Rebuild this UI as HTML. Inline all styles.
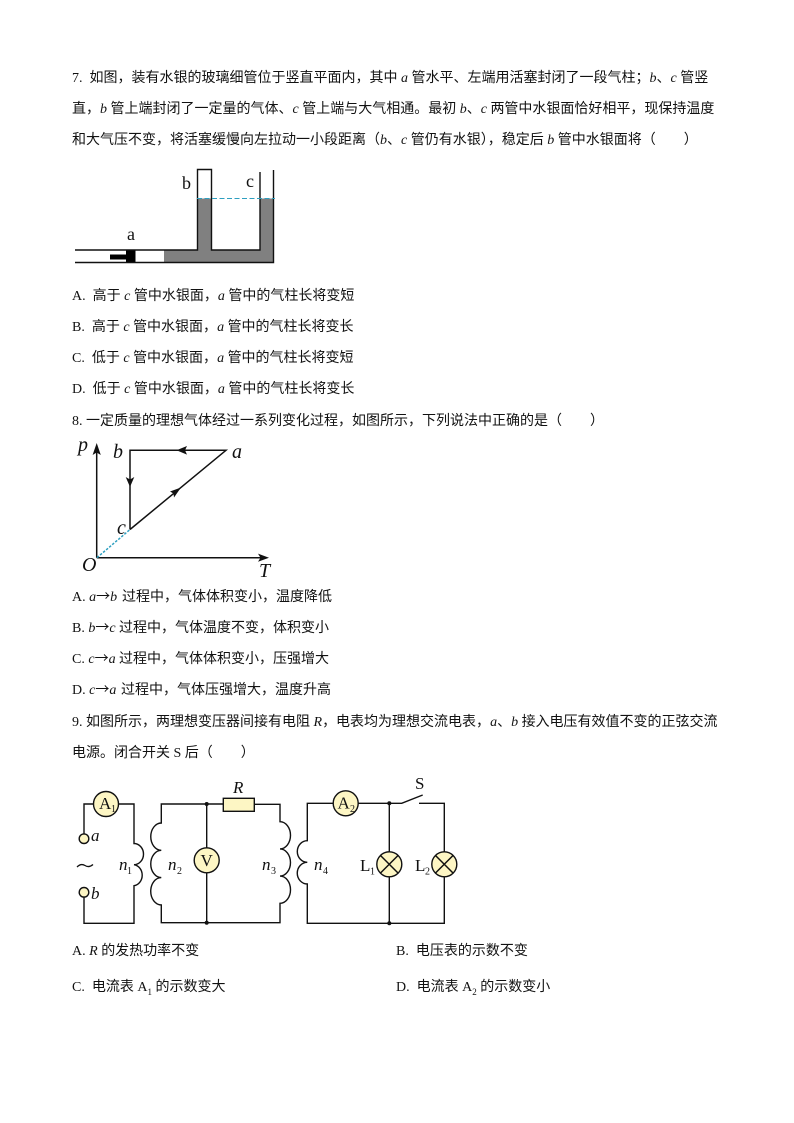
<!DOCTYPE html>
<html lang="zh-CN">
<head>
<meta charset="utf-8">
<title>物理试题</title>
<style>
html,body{margin:0;padding:0;background:#fff}
#p{position:relative;width:794px;height:1123px;overflow:hidden;background:#fff;color:#111;font-family:"Liberation Serif","Noto Sans CJK SC",sans-serif;font-size:14px}
.l{position:absolute;white-space:nowrap;line-height:20px;height:20px}
.l i{font-family:"Liberation Serif",serif}
.ar{display:inline-block;width:14px;text-align:center;line-height:0;font-family:"Noto Sans CJK SC",sans-serif}
sub{font-size:9px;line-height:0}
svg{position:absolute;left:0;top:0}
svg text{font-family:"Liberation Serif",serif;fill:#111}
</style>
</head>
<body>
<div id="p">
<div class="l" style="left:72px;top:69px">7. &nbsp;如图，装有水银的玻璃细管位于竖直平面内，其中 <i>a</i> 管水平、左端用活塞封闭了一段气柱；<i>b</i>、<i>c</i> 管竖</div>
<div class="l" style="left:72px;top:100px">直，<i>b</i> 管上端封闭了一定量的气体、<i>c</i> 管上端与大气相通。最初 <i>b</i>、<i>c</i> 两管中水银面恰好相平，现保持温度</div>
<div class="l" style="left:72px;top:131px">和大气压不变，将活塞缓慢向左拉动一小段距离（<i>b</i>、<i>c</i> 管仍有水银），稳定后 <i>b</i> 管中水银面将（　　）</div>
<div class="l" style="left:72px;top:287px">A. &nbsp;高于 <i>c</i> 管中水银面，<i>a</i> 管中的气柱长将变短</div>
<div class="l" style="left:72px;top:318px">B. &nbsp;高于 <i>c</i> 管中水银面，<i>a</i> 管中的气柱长将变长</div>
<div class="l" style="left:72px;top:349px">C. &nbsp;低于 <i>c</i> 管中水银面，<i>a</i> 管中的气柱长将变短</div>
<div class="l" style="left:72px;top:380px">D. &nbsp;低于 <i>c</i> 管中水银面，<i>a</i> 管中的气柱长将变长</div>
<div class="l" style="left:72px;top:412px">8. 一定质量的理想气体经过一系列变化过程，如图所示，下列说法中正确的是（　　）</div>
<div class="l" style="left:72px;top:588px">A. <i>a</i><span class="ar">→</span><i>b</i></div>
<div class="l" style="left:122px;top:588px">过程中，气体体积变小，温度降低</div>
<div class="l" style="left:72px;top:619px">B. <i>b</i><span class="ar">→</span><i>c</i></div>
<div class="l" style="left:119px;top:619px">过程中，气体温度不变，体积变小</div>
<div class="l" style="left:72px;top:650px">C. <i>c</i><span class="ar">→</span><i>a</i></div>
<div class="l" style="left:119px;top:650px">过程中，气体体积变小，压强增大</div>
<div class="l" style="left:72px;top:681px">D. <i>c</i><span class="ar">→</span><i>a</i></div>
<div class="l" style="left:121px;top:681px">过程中，气体压强增大，温度升高</div>
<div class="l" style="left:72px;top:713px">9. 如图所示，两理想变压器间接有电阻 <i>R</i>，电表均为理想交流电表，<i>a</i>、<i>b</i> 接入电压有效值不变的正弦交流</div>
<div class="l" style="left:72px;top:744px">电源。闭合开关 S 后（　　）</div>
<div class="l" style="left:72px;top:942px">A. <i>R</i> 的发热功率不变</div>
<div class="l" style="left:396px;top:942px">B. &nbsp;电压表的示数不变</div>
<div class="l" style="left:72px;top:978px">C. &nbsp;电流表 A<sub>1</sub> 的示数变大</div>
<div class="l" style="left:396px;top:978px">D. &nbsp;电流表 A<sub>2</sub> 的示数变小</div>

<svg width="794" height="1123" viewBox="0 0 794 1123">
  <!-- Figure 7 -->
  <g>
    <path d="M197.5 198.5H211.5V250H260V198.5H273.5V262H164V250H197.5Z" fill="#808080"/>
    <rect x="126" y="250" width="9.5" height="12" fill="#000"/>
    <rect x="110" y="254.5" width="16" height="5" fill="#000"/>
    <path d="M75 250H197.5V169.5H211.5V250H260V172M273.5 170V262.5H75" fill="none" stroke="#111" stroke-width="1.4"/>
    <line x1="197" y1="198.5" x2="275" y2="198.5" stroke="#2e9fc0" stroke-width="1.1" stroke-dasharray="5 2.5"/>
    <text x="182" y="189" font-size="18">b</text>
    <text x="246" y="187" font-size="18">c</text>
    <text x="127" y="240" font-size="18">a</text>
  </g>
  <!-- Figure 8 -->
  <g fill="none" stroke="#111" stroke-width="1.5">
    <path d="M96.7 557.7V446M96.7 557.7H265"/>
    <path d="M130 529.5V450.3H226L130 529.5"/>
    <line x1="97" y1="557.7" x2="130" y2="529.5" stroke="#2e9fc0" stroke-dasharray="2.5 1.5"/>
  </g>
  <g fill="#111">
    <path d="M96.7 443L100.8 455L96.7 452.5L92.6 455Z"/>
    <path d="M269 557.7L258 553.6L260.5 557.7L258 561.8Z"/>
    <path d="M176.5 450.3L187 446L185 450.3L187 454.6Z"/>
    <path d="M130 487L125.7 477L130 479.5L134.3 477Z"/>
    <path d="M181 487.5L170 491.5L173.5 493.5L174 497.5Z"/>
  </g>
  <g font-size="20" font-style="italic">
    <text x="78" y="451">p</text>
    <text x="113" y="458">b</text>
    <text x="232" y="458">a</text>
    <text x="117" y="534">c</text>
    <text x="82" y="571">O</text>
    <text x="259" y="577">T</text>
  </g>
  <!-- Figure 9 -->
  <g fill="none" stroke="#111" stroke-width="1.4">
    <path d="M84 834V804H134V843.5a9.5 10.6 0 0 1 0 21.2a9.5 10.6 0 0 1 0 21H134V923.3H84V897"/>
    <path d="M206.7 804H161.3V823a10.5 13.6 0 0 0 0 27.3a10.5 13.6 0 0 0 0 27.3a10.5 13.6 0 0 0 0 27.4V922.7H280V903.3a10.5 13.6 0 0 0 0-27.2a10.5 13.6 0 0 0 0-27.2a10.5 13.6 0 0 0 0-27.2V804.3H254"/>
    <path d="M206.7 804H224"/>
    <path d="M206.7 804V922.7"/>
    <path d="M333 803.3H307.3V840.7a10 10.8 0 0 0 0 21.6a10 10.8 0 0 0 0 21.7V923.3H444.3V803.3H419"/>
    <path d="M358 803.3H401.7L422.7 795"/>
    <path d="M389.3 803.3V923.3"/>
  </g>
  <g fill="#111">
    <circle cx="206.7" cy="804" r="2"/>
    <circle cx="206.7" cy="922.7" r="2"/>
    <circle cx="389.3" cy="803.3" r="2"/>
    <circle cx="389.3" cy="923.3" r="2"/>
  </g>
  <g fill="#fdf6c4" stroke="#111" stroke-width="1.4">
    <circle cx="106" cy="804" r="12.5"/>
    <circle cx="206.7" cy="860.3" r="12.5"/>
    <circle cx="345.7" cy="803.3" r="12.5"/>
    <circle cx="389.3" cy="864.3" r="12.5"/>
    <circle cx="444.3" cy="864.3" r="12.5"/>
    <circle cx="84" cy="838.7" r="4.8"/>
    <circle cx="84" cy="892.3" r="4.8"/>
    <rect x="223.3" y="798.3" width="31" height="13"/>
  </g>
  <path d="M380.5 855.5L398 873M398 855.5L380.5 873M435.5 855.5L453 873M453 855.5L435.5 873" stroke="#111" stroke-width="1.5" fill="none"/>
  <g font-size="17">
    <text x="99" y="809">A</text><text x="111" y="812" font-size="10">1</text>
    <text x="200.5" y="866">V</text>
    <text x="337.5" y="808.5">A</text><text x="350" y="812" font-size="10">2</text>
    <text x="360" y="871">L</text><text x="370" y="874.5" font-size="10">1</text>
    <text x="415" y="871">L</text><text x="425" y="874.5" font-size="10">2</text>
    <text x="415" y="789">S</text>
  </g>
  <g font-size="17" font-style="italic">
    <text x="233" y="793">R</text>
    <text x="91" y="841">a</text>
    <text x="91" y="899">b</text>
    <text x="119" y="870">n</text>
    <text x="168" y="870">n</text>
    <text x="262" y="870">n</text>
    <text x="314" y="870">n</text>
  </g>
  <g font-size="10">
    <text x="127" y="874">1</text>
    <text x="177" y="874">2</text>
    <text x="271" y="874">3</text>
    <text x="323" y="874">4</text>
  </g>
  <path d="M77 867q4-4 8-1.5t8-1" fill="none" stroke="#111" stroke-width="1.3"/>
</svg>
</div>
</body>
</html>
